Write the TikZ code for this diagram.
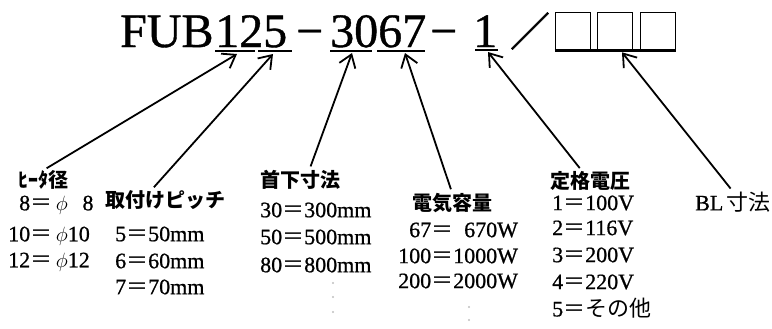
\documentclass[tikz,border=0pt]{standalone}
\usepackage{fontspec}
\setmainfont{Liberation Serif}
\newfontfamily\vf{Liberation Serif}[FakeBold=0.8]
\newfontfamily\jp{Noto Sans CJK JP}
\newfontfamily\jph{Noto Sans CJK JP}[FakeBold=1.2]
\usetikzlibrary{arrows.meta}
\newcommand{\eqs}{{\jp ＝}}
\newcommand{\ph}{\phantom{1}}

\begin{document}
\begin{tikzpicture}[x=1bp,y=-1bp,
  head/.style={inner sep=0pt,anchor=base west,font=\fontsize{48bp}{48bp}\selectfont\vf},
  lbl/.style={inner sep=0pt,anchor=west,font=\fontsize{20bp}{20bp}\selectfont\jp\bfseries},
  val/.style={inner sep=0pt,anchor=west,font=\fontsize{22bp}{22bp}\selectfont\vf},
  ptr/.style={-{Straight Barb[length=12bp,width=17bp,line width=1.8bp]},line width=1.8bp,shorten <=4bp},
  box/.style={draw,line width=1.6bp,minimum width=35bp,minimum height=37bp,inner sep=0pt}]

\useasboundingbox (0,0) rectangle (772,328);

% model code
\node[head] (fub) at (120,47) {FUB};
\node[head] (n125) at (215,47) {125};
\node[head] (d1) at (296,47) {−};
\node[head] (n3067) at (330,47) {3067};
\node[head] (d2) at (430,47) {−};
\node[head] (n1) at (473,47) {1};
\node[inner sep=0pt,font=\fontsize{40bp}{40bp}\selectfont\jph] (sl) at (530,31) {／};
\node[box] (b1) at (573,31) {};
\node[box] (b2) at (615,31) {};
\node[box] (b3) at (658,31) {};

% underlines
\draw[line width=2bp] (215,51) -- (255,51);
\draw[line width=2bp] (258,51) -- (292,51);
\draw[line width=2bp] (330,51) -- (372,51);
\draw[line width=2bp] (377,51) -- (425,51);
\draw[line width=2bp] (475,50) -- (498,50);
\draw[line width=2.6bp] (b1.south west) -- (b3.south east);

% arrow tips
\coordinate (t1) at (237,54);
\coordinate (t2) at (273,54);
\coordinate (t3) at (352,53);
\coordinate (t4) at (405,53);
\coordinate (t5) at (488,52);
\coordinate (t6) at ([xshift=7bp,yshift=-2bp]b2.south);

% labels
\node[lbl] (hdia) at (18,180) {ﾋｰﾀ径};
\node[lbl] (pitch) at (105,200) {取付けピッチ};
\node[lbl] (neck) at (260,180) {首下寸法};
\node[lbl] (watt) at (412,203) {電気容量};
\node[lbl] (volt) at (550,181) {定格電圧};
\node[val] (bl) at (695,202) {BL\,{\jp 寸法}};

\draw[ptr] (hdia.north) -- (t1);
\draw[ptr] ([xshift=-14bp]pitch.north) -- (t2);
\draw[ptr] ([xshift=9bp]neck.north) -- (t3);
\draw[ptr] (watt.north) -- (t4);
\draw[ptr] ([xshift=-8bp]volt.north) -- (t5);
\draw[ptr] (bl.north) -- (t6);

% heater diameter
\node[val] (h1) at (8,205) {\ph8\eqs\,$\phi$\ph\,8};
\node[val] (h2) at (8,236) {10\eqs\,$\phi$10};
\node[val] (h3) at (8,262) {12\eqs\,$\phi$12};

% pitch
\node[val] (p1) at (115,234) {5\eqs50mm};
\node[val] (p2) at (115,261) {6\eqs60mm};
\node[val] (p3) at (115,287) {7\eqs70mm};

% neck length
\node[val] (k1) at (260,210) {30\eqs300mm};
\node[val] (k2) at (260,237) {50\eqs500mm};
\node[val] (k3) at (260,265) {80\eqs800mm};
\foreach \y in {283,297,312} \fill[gray!50] (333,\y) circle (1.1bp);

% wattage
\node[val] (w1) at (398,230) {\ph67\eqs\ph670W};
\node[val] (w2) at (398,256) {100\eqs1000W};
\node[val] (w3) at (398,281) {200\eqs2000W};
\foreach \y in {307,320} \fill[gray!50] (469,\y) circle (1.1bp);

% voltage
\node[val] (v1) at (552,203) {1\eqs100V};
\node[val] (v2) at (552,228) {2\eqs116V};
\node[val] (v3) at (552,255) {3\eqs200V};
\node[val] (v4) at (552,282) {4\eqs220V};
\node[val] (v5) at (552,308) {5\eqs{\jp その他}};
\end{tikzpicture}
\end{document}
